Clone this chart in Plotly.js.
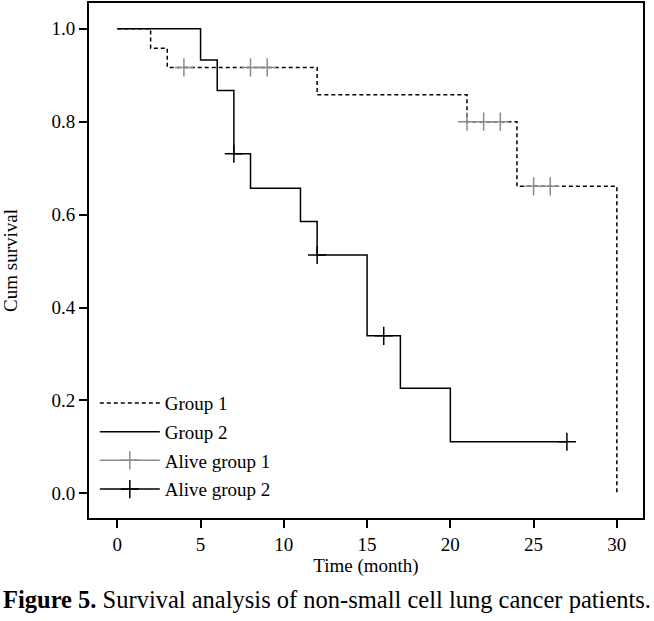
<!DOCTYPE html>
<html>
<head>
<meta charset="utf-8">
<script src="https://cdn.plot.ly/plotly-3.0.1.min.js"></script>
<style>html,body{margin:0;padding:0;background:#fff;}#chart{width:654px;height:621px;}</style>
</head>
<body>
<div id="chart"></div>
<script>
// Group 1 step curve (dashed)
const g1Time = [0, 2, 3, 12, 21, 24, 30];
const g1Surv = [1.0, 0.958, 0.917, 0.858, 0.800, 0.661, 0.0];
// Group 2 step curve (solid)
const g2Time = [0, 5, 6, 7, 8, 11, 12, 15, 17, 20, 27];
const g2Surv = [1.0, 0.933, 0.867, 0.731, 0.657, 0.585, 0.513, 0.339, 0.226, 0.111, 0.111];
// Censored (alive) marks
const alive1Time = [4, 8, 9, 21, 22, 23, 25, 26];
const alive1Surv = [0.917, 0.917, 0.917, 0.800, 0.800, 0.800, 0.661, 0.661];
const alive2Time = [7, 12, 16, 27];
const alive2Surv = [0.731, 0.513, 0.339, 0.111];
const xTicks = [0, 5, 10, 15, 20, 25, 30];
const yTicks = [0.0, 0.2, 0.4, 0.6, 0.8, 1.0];
const yTickText = ["0.0", "0.2", "0.4", "0.6", "0.8", "1.0"];

// split points with nulls so that each mark stands alone but legend shows line+marker
function splitPts(arr) {
  const out = [];
  arr.forEach((v, i) => { if (i) out.push(null); out.push(v); });
  return out;
}

const FONT = "Liberation Serif, Times New Roman, serif";

const traces = [
  {x: g1Time, y: g1Surv, mode: "lines", name: "Group 1", legendgroup: "a",
   line: {shape: "hv", color: "#000", width: 1.5, dash: "4px,3px"}},
  {x: g2Time, y: g2Surv, mode: "lines", name: "Group 2", legendgroup: "b",
   line: {shape: "hv", color: "#000", width: 1.5}},
  {x: splitPts(alive1Time), y: splitPts(alive1Surv), mode: "lines+markers", name: "Alive group 1",
   legendgroup: "c", connectgaps: false,
   line: {color: "#8c8c8c", width: 1.5},
   marker: {symbol: "cross-thin", size: 13, line: {color: "#8c8c8c", width: 1.5}}},
  {x: splitPts(alive2Time), y: splitPts(alive2Surv), mode: "lines+markers", name: "Alive group 2",
   legendgroup: "d", connectgaps: false,
   line: {color: "#000", width: 1.5},
   marker: {symbol: "cross-thin", size: 13, line: {color: "#000", width: 1.5}}}
];

const layout = {
  width: 654, height: 621,
  margin: {l: 89, r: 11, t: 3, b: 103},
  paper_bgcolor: "#fff", plot_bgcolor: "#fff",
  font: {family: FONT, size: 19, color: "#000"},
  showlegend: true,
  legend: {x: 0.0105, y: 0.260, xanchor: "left", yanchor: "top",
           bgcolor: "rgba(0,0,0,0)", itemwidth: 60, tracegroupgap: 1,
           traceorder: "grouped", font: {family: FONT, size: 19, color: "#000"}},
  xaxis: {range: [-1.70, 31.57], tickvals: xTicks, ticktext: xTicks.map(String),
          ticks: "outside", ticklen: 8, tickwidth: 2, tickcolor: "#000",
          showline: true, linewidth: 2, linecolor: "#000", mirror: true,
          showgrid: false, zeroline: false,
          title: {text: "Time (month)", font: {family: FONT, size: 19}, standoff: 5}},
  yaxis: {range: [-0.0532, 1.0556], tickvals: yTicks, ticktext: yTickText,
          ticks: "outside", ticklen: 8, tickwidth: 2, tickcolor: "#000",
          showline: true, linewidth: 2, linecolor: "#000", mirror: true,
          showgrid: false, zeroline: false,
          title: {text: "Cum survival", font: {family: FONT, size: 19}, standoff: 29}},
  annotations: [{
    xref: "paper", yref: "paper", x: 0.5, y: -0.159, xanchor: "center", yanchor: "middle",
    xshift: -39,
    text: "<b>Figure 5.</b> Survival analysis of non-small cell lung cancer patients.",
    showarrow: false, font: {family: FONT, size: 24.5, color: "#000"}
  }]
};

Plotly.newPlot("chart", traces, layout, {displayModeBar: false, staticPlot: true});
</script>
</body>
</html>
